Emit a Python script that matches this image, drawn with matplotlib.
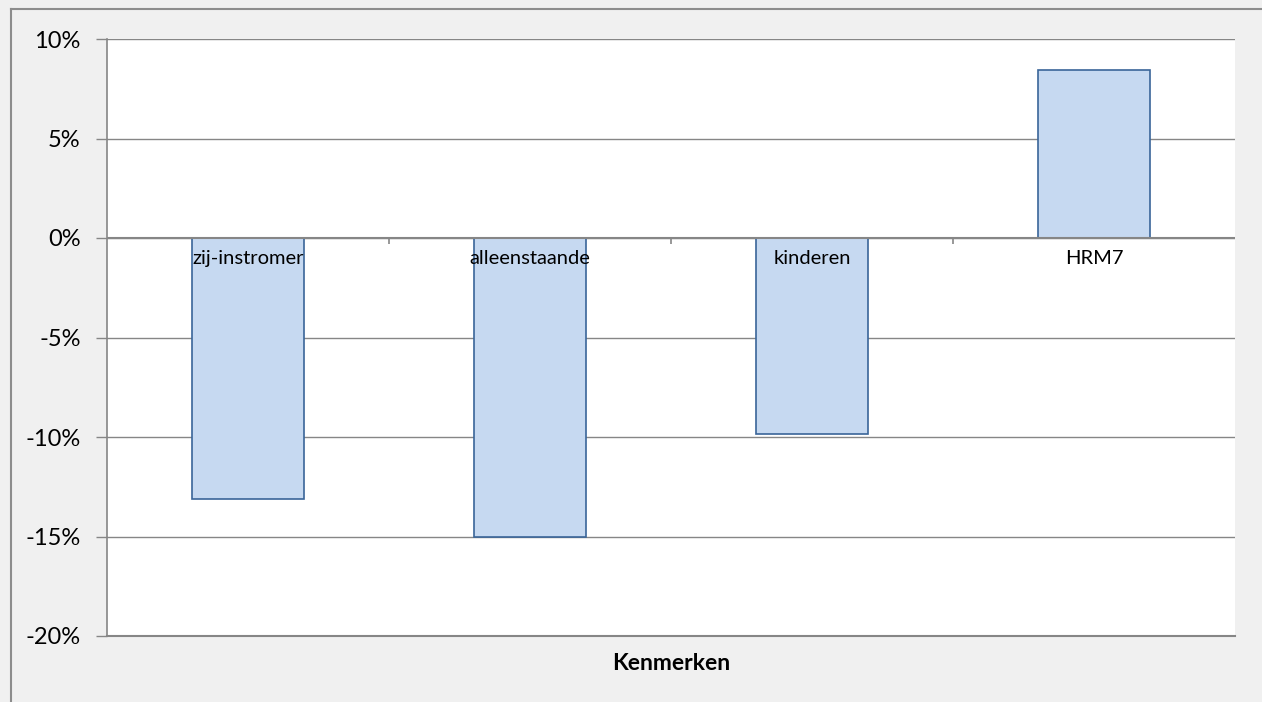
import matplotlib
matplotlib.use("Agg")
import matplotlib.pyplot as plt
from matplotlib.lines import Line2D
from matplotlib.ticker import FuncFormatter

categories = ["zij-instromer", "alleenstaande", "kinderen", "HRM7"]
values = [-13.1, -15.0, -9.85, 8.45]
yticks = [-20, -15, -10, -5, 0, 5, 10]
xlabel = "Kenmerken"

plt.rcParams['font.family'] = ['Lato', 'DejaVu Sans']

W, H = 1262, 702
fig = plt.figure(figsize=(W / 100, H / 100), dpi=100, facecolor='#f0f0f0')

grid_c = '#868686'
# outer chart border (left and top visible)
fig.add_artist(Line2D([11 / W, 11 / W], [0, 1 - 9 / H], color='#8c8c8c', lw=1.5))
fig.add_artist(Line2D([11 / W, 1], [1 - 9 / H, 1 - 9 / H], color='#8c8c8c', lw=1.5))

ax = fig.add_axes([107 / W, (H - 636) / H, 1128 / W, 597 / H])
ax.set_facecolor('white')

x = list(range(len(categories)))
ax.bar(x, values, width=0.4, color='#c6d9f1', edgecolor='#3a6599', linewidth=1.2, zorder=3)

ax.set_xlim(-0.5, len(categories) - 0.5)
ax.set_ylim(-20, 10)
ax.set_yticks(yticks)
ax.yaxis.set_major_formatter(FuncFormatter(lambda v, p: f"{int(v)}%"))
ax.tick_params(axis='y', length=8, width=1, color=grid_c, labelsize=17, pad=11, labelcolor='black')
ax.set_xticks([])

for yv in yticks:
    ax.axhline(yv, color=grid_c, lw=1, zorder=1)

ax.axhline(0, color=grid_c, lw=1.5, zorder=4)
ax.vlines([0.5, 1.5, 2.5], -0.28, 0, color=grid_c, lw=1.2, zorder=4)

for i, c in enumerate(categories):
    ax.text(i, -0.6, c, ha='center', va='top', fontsize=14.5, zorder=5)

for s in ['top', 'right']:
    ax.spines[s].set_visible(False)
ax.spines['left'].set_color(grid_c)
ax.spines['left'].set_linewidth(1.2)
ax.spines['bottom'].set_color(grid_c)
ax.spines['bottom'].set_linewidth(1.5)

ax.set_xlabel(xlabel, fontsize=16.5, fontweight='bold', labelpad=12)

fig.savefig("out.png", dpi=100, facecolor=fig.get_facecolor())
